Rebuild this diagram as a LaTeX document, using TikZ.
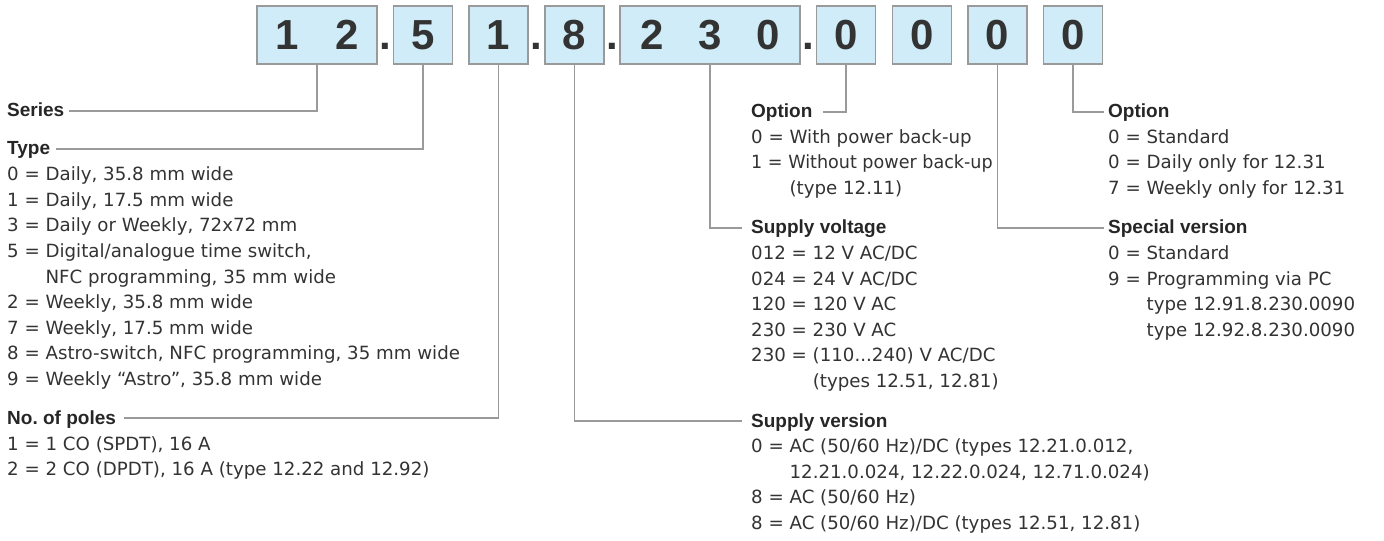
\documentclass[tikz,border=0pt]{standalone}
\usepackage{fontspec}
\usepackage{graphicx}
\setmainfont{DejaVu Sans}
\newfontfamily\hdfont{Liberation Sans}
\usetikzlibrary{calc}
\frenchspacing
\definecolor{boxfill}{HTML}{CFECF8}
\definecolor{boxline}{HTML}{9A9A9A}
\definecolor{conncol}{HTML}{9A9A9A}
\definecolor{txtcol}{HTML}{333333}
\definecolor{hdcol}{HTML}{262626}
\tikzset{
  digitbox/.style={draw=boxline, line width=1.3bp, fill=boxfill, minimum height=58bp, inner sep=0pt, text=txtcol, font=\hdfont\bfseries\fontsize{42bp}{42bp}\selectfont},
  sepdot/.style={anchor=base, inner sep=0pt, text=txtcol, font=\hdfont\bfseries\fontsize{42bp}{42bp}\selectfont},
  conn/.style={draw=conncol, line width=1.2bp},
  head/.style={anchor=base west, inner sep=0pt, text=hdcol, font=\hdfont\bfseries\fontsize{19bp}{24bp}\selectfont\frenchspacing},
  item/.style={anchor=base west, inner sep=0pt, text=txtcol, font=\fontsize{18.2bp}{24bp}\selectfont\frenchspacing},
}
\begin{document}
\begin{tikzpicture}[x=1bp,y=-1bp]
\useasboundingbox (0,0) rectangle (1384,541);
% code boxes
\node[digitbox, minimum width=120bp] (b12) at (317,35) {1\kern37bp 2};
\node[digitbox, minimum width=59bp] (b5) at (423,35) {5};
\node[digitbox, minimum width=59bp] (b1) at (498.5,35) {1};
\node[digitbox, minimum width=59bp] (b8) at (574.5,35) {8};
\node[digitbox, minimum width=180bp] (b230) at (710,35) {2\kern34.5bp 3\kern34.5bp 0};
\node[digitbox, minimum width=59bp] (b0a) at (846,35) {0};
\node[digitbox, minimum width=59bp] (b0b) at (922,35) {0};
\node[digitbox, minimum width=59bp] (b0c) at (997.5,35) {0};
\node[digitbox, minimum width=59bp] (b0d) at (1073,35) {0};
% separating dots
\node[sepdot] (p1) at (385,50) {.};
\node[sepdot] (p2) at (536.5,50) {.};
\node[sepdot] (p3) at (612,50) {.};
\node[sepdot] (p4) at (808,50) {.};
% headings
\node[head] (series) at (7,117) {Series};
\node[head] (type) at (7,155) {Type};
\node[head] (poles) at (7,424) {No. of poles};
\node[head] (opt1) at (751,118) {Option};
\node[head] (sv) at (751,234) {Supply voltage};
\node[head] (sver) at (751,427) {Supply version};
\node[head] (opt2) at (1108,118) {Option};
\node[head] (spv) at (1108,234) {Special version};
% items
\foreach \s [count=\i] in {
  {0 = Daily, 35.8 mm wide},
  {1 = Daily, 17.5 mm wide},
  {3 = Daily or Weekly, 72x72 mm},
  {5 = Digital/analogue time switch,},
  {\phantom{5 = }NFC programming, 35 mm wide},
  {2 = Weekly, 35.8 mm wide},
  {7 = Weekly, 17.5 mm wide},
  {8 = Astro-switch, NFC programming, 35 mm wide},
  {9 = Weekly “Astro”, 35.8 mm wide}}
  \node[item] (ty\i) at (7,{181+25.5*(\i-1)}) {\s};
\foreach \s [count=\i] in {
  {1 = 1 CO (SPDT), 16 A},
  {2 = 2 CO (DPDT), 16 A (type 12.22 and 12.92)}}
  \node[item] (po\i) at (7,{450+25.5*(\i-1)}) {\s};
\foreach \s [count=\i] in {
  {0 = With power back-up},
  {\scalebox{0.965}[1]{1 = Without power back-up}},
  {\phantom{1 = }(type 12.11)}}
  \node[item] (oa\i) at (751,{143.5+25.5*(\i-1)}) {\s};
\foreach \s [count=\i] in {
  {012 = 12 V AC/DC},
  {024 = 24 V AC/DC},
  {120 = 120 V AC},
  {230 = 230 V AC},
  {230 = (110{.}{.}{.}240) V AC/DC},
  {\phantom{230 = }(types 12.51, 12.81)}}
  \node[item] (sv\i) at (751,{259.5+25.5*(\i-1)}) {\s};
\foreach \s [count=\i] in {
  {0 = AC (50/60 Hz)/DC (types 12.21.0.012,},
  {\phantom{0 = }12.21.0.024, 12.22.0.024, 12.71.0.024)},
  {8 = AC (50/60 Hz)},
  {8 = AC (50/60 Hz)/DC (types 12.51, 12.81)}}
  \node[item] (sr\i) at (751,{452.5+25.5*(\i-1)}) {\s};
\foreach \s [count=\i] in {
  {0 = Standard},
  {0 = Daily only for 12.31},
  {7 = Weekly only for 12.31}}
  \node[item] (ob\i) at (1108,{143.5+25.5*(\i-1)}) {\s};
\foreach \s [count=\i] in {
  {0 = Standard},
  {9 = Programming via PC},
  {\phantom{9 = }type 12.91.8.230.0090},
  {\phantom{9 = }type 12.92.8.230.0090}}
  \node[item] (sp\i) at (1108,{259.5+25.5*(\i-1)}) {\s};
% connectors
\draw[conn] (b12.south) |- ($(series.base east)+(5,-6)$);
\draw[conn] (b5.south) |- ($(type.base east)+(6,-6)$);
\draw[conn] (b1.south) |- ($(poles.base east)+(8,-6)$);
\draw[conn] (b8.south) |- ($(sver.base west)+(-9,-6)$);
\draw[conn] (b230.south) |- ($(sv.base west)+(-9,-6)$);
\draw[conn] (b0a.south) |- ($(opt1.base east)+(10,-6)$);
\draw[conn] (b0c.south) |- ($(spv.base west)+(-4,-6)$);
\draw[conn] (b0d.south) |- ($(opt2.base west)+(-4,-6)$);
\end{tikzpicture}
\end{document}
